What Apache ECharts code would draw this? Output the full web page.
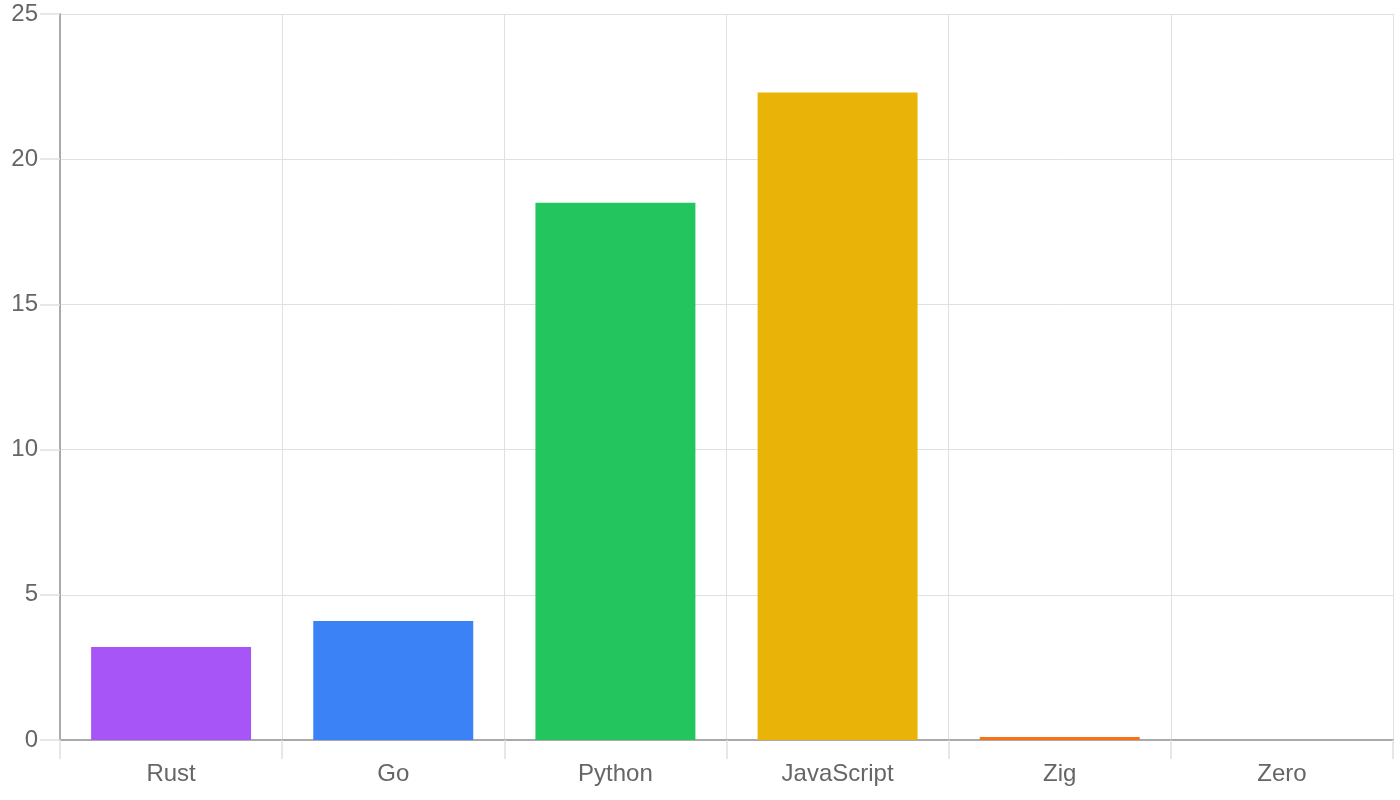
<!DOCTYPE html>
<html>
<head>
<meta charset="utf-8">
<script src="https://cdn.jsdelivr.net/npm/echarts@6/dist/echarts.min.js"></script>
<style>
  html, body { margin: 0; padding: 0; background: #fff; }
  #chart { width: 1400px; height: 800px; }
</style>
</head>
<body>
<div id="chart"></div>
<script>
const languages = ['Rust', 'Go', 'Python', 'JavaScript', 'Zig', 'Zero']
const values = [3.2, 4.1, 18.5, 22.3, 0.1, 0]
const colors = ['#a855f7', '#3b82f6', '#22c55e', '#eab308', '#f97316', '#ef4444']
const yTicks = { min: 0, max: 25, interval: 5 }

const chart = echarts.init(document.querySelector('#chart'))

const option = {
    animation: false,
    grid: { left: 60, right: 7, top: 14, bottom: 60 },
    textStyle: { fontFamily: 'Liberation Sans, Arial, sans-serif' },
    xAxis: {
        type: 'category',
        data: languages,
        boundaryGap: true,
        axisLine: { lineStyle: { color: '#aaaaaa', width: 2 } },
        axisTick: { show: true, length: 19, lineStyle: { color: '#e0e0e0', width: 1.5 } },
        splitLine: { show: true, lineStyle: { color: '#e0e0e0', width: 1 } },
        axisLabel: { fontSize: 24, color: '#666666', margin: 22 }
    },
    yAxis: {
        type: 'value',
        min: yTicks.min,
        max: yTicks.max,
        interval: yTicks.interval,
        axisLine: { show: true, lineStyle: { color: '#aaaaaa', width: 2 } },
        axisTick: { show: true, length: 20, lineStyle: { color: '#e0e0e0', width: 1.5 } },
        splitLine: { lineStyle: { color: '#e0e0e0', width: 1 } },
        axisLabel: { fontSize: 24, color: '#666666', margin: 22 }
    },
    series: [
        {
            type: 'bar',
            barWidth: '72%',
            data: values.map((v, i) => ({ value: v, itemStyle: { color: colors[i] } }))
        }
    ]
}

chart.setOption(option)
</script>
</body>
</html>
